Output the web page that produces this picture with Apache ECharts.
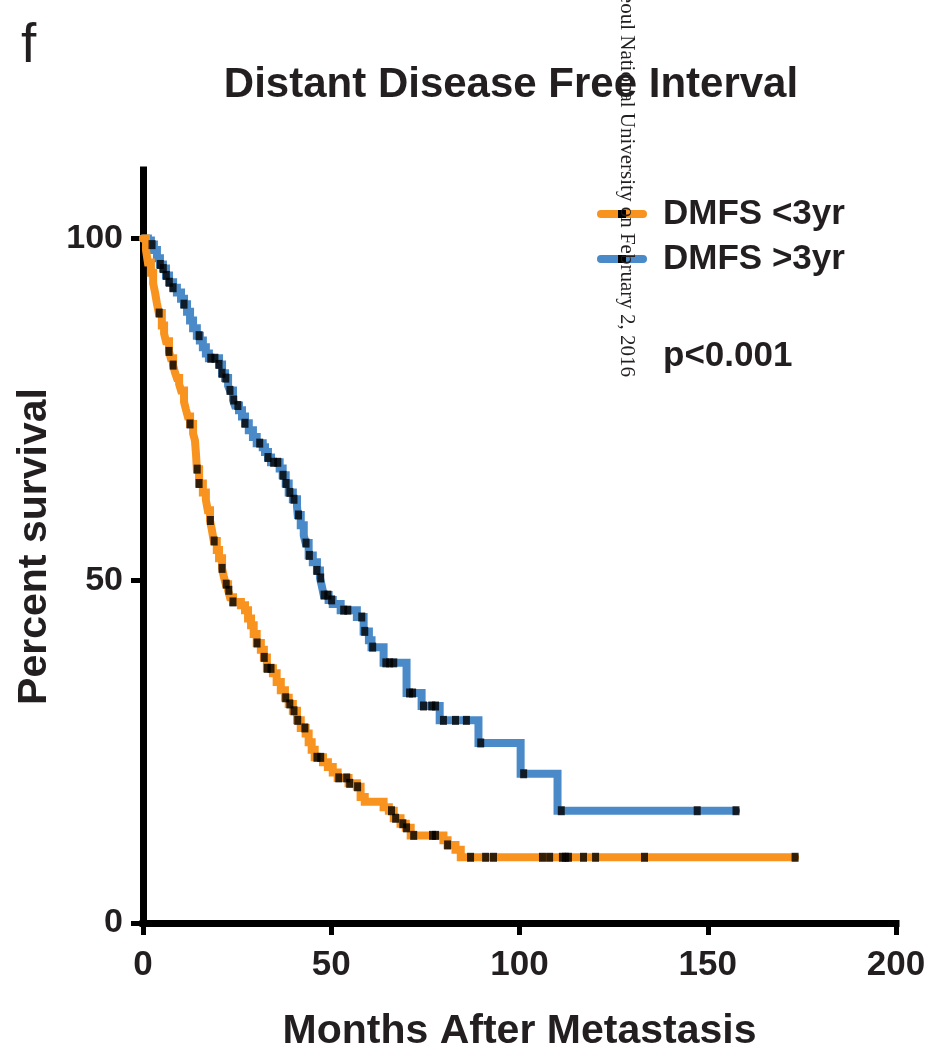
<!DOCTYPE html>
<html><head><meta charset="utf-8">
<script src="https://cdn.jsdelivr.net/npm/echarts@6/dist/echarts.min.js"></script>
<style>html,body{margin:0;padding:0;background:#fff}#c{width:934px;height:1053px}</style>
</head><body><div id="c"></div>
<script>
// ---- data ----
const xTicks = [0, 50, 100, 150, 200];
const yTicks = [0, 50, 100];
const seriesNames = ['DMFS <3yr', 'DMFS >3yr'];
const pValueText = 'p<0.001';

// Kaplan-Meier steps: [month, percent surviving after the drop]
const stepsShort = [[0,100],[0.8,98.3],[1.3,96.5],[2.1,95.0],[2.7,93.4],[3.2,92.1],[3.7,90.5],[4.2,89.1],[5.0,87.3],[5.6,86.1],[6.1,85.0],[6.9,83.5],[7.4,82.5],[8.0,81.5],[8.5,80.4],[9.0,79.6],[9.6,78.7],[10.1,77.8],[10.9,76.1],[11.4,75.0],[11.9,74.0],[12.5,72.9],[13.3,71.5],[13.8,70.5],[14.1,68.3],[14.3,66.3],[14.9,64.2],[15.9,62.9],[16.7,61.8],[17.2,60.3],[17.8,58.8],[18.3,57.4],[18.8,55.8],[19.6,54.5],[20.2,53.3],[21.0,51.8],[21.5,50.5],[22.0,49.5],[22.6,48.6],[23.1,47.6],[23.9,46.9],[26.0,46.4],[27.1,45.7],[27.9,44.5],[28.7,43.5],[29.4,42.2],[30.2,40.9],[31.3,39.9],[32.1,38.8],[32.9,37.2],[34.5,36.5],[35.5,35.2],[36.6,34.0],[37.7,32.9],[38.7,32.0],[39.8,31.0],[40.9,29.6],[41.9,28.5],[43.2,27.7],[44.0,26.4],[44.8,25.3],[45.6,24.2],[47.8,23.5],[49.1,22.8],[50.4,22.0],[51.7,21.2],[54.6,20.4],[56.8,19.9],[57.8,18.4],[58.9,17.7],[63.9,16.9],[65.3,16.4],[66.6,15.3],[68.4,14.5],[69.8,13.9],[71.1,12.8],[79.8,12.1],[80.9,11.4],[83.0,10.7],[84.4,9.6],[173.2,9.6]];
const stepsLong = [[0,100],[1.3,99.7],[2.1,99.1],[2.9,98.3],[3.7,97.1],[4.5,96.2],[5.3,95.6],[6.1,94.6],[6.9,93.6],[8.0,92.8],[9.0,92.1],[10.1,91.2],[10.9,90.4],[11.7,89.3],[12.5,88.0],[13.3,86.9],[14.3,85.8],[15.1,85.1],[15.9,84.1],[16.7,83.2],[17.5,82.5],[20.2,81.6],[21.0,80.3],[21.8,79.6],[22.6,78.5],[23.1,77.8],[23.9,76.4],[24.4,75.6],[25.5,74.9],[26.3,74.0],[27.1,73.0],[28.1,72.0],[29.2,71.0],[30.2,70.1],[31.8,69.5],[32.4,68.8],[33.2,68.0],[34.0,67.3],[36.3,66.4],[37.1,65.4],[37.9,64.2],[38.7,62.9],[39.8,61.9],[40.9,60.9],[41.1,59.6],[41.9,58.1],[42.7,56.6],[43.2,55.5],[44.0,53.7],[45.1,52.7],[46.2,51.5],[47.0,50.4],[47.5,49.2],[48.0,47.9],[49.3,47.2],[50.4,46.6],[52.5,45.7],[56.8,44.7],[58.6,42.6],[60.0,41.3],[60.7,40.3],[63.9,38.0],[70.0,33.6],[74.0,31.7],[78.8,29.6],[89.1,26.3],[100.3,21.8],[110.1,16.4],[157.5,16.4]];

// censored observations (months)
const censorShort = [4.3,6.9,8.0,12.5,14.4,14.9,17.9,18.9,21.0,22.1,22.8,23.9,30.3,32.2,33.0,34.0,37.9,39.0,40.1,41.1,43.0,46.2,47.2,52.0,54.1,54.9,57.0,66.0,67.1,69.0,70.0,71.9,76.9,77.7,80.9,87.0,91.0,93.1,106.1,108.0,111.4,112.2,113.0,117.0,120.2,133.2,173.2];
const censorLong = [2.4,4.6,5.4,6.2,7.0,8.0,10.9,14.9,18.0,19.1,20.2,21.0,22.0,23.1,24.1,25.2,27.1,31.0,33.2,34.7,35.8,37.2,38.0,39.0,40.1,41.3,43.3,44.2,46.2,47.2,48.1,49.1,50.1,53.3,54.4,58.1,58.9,61.0,64.5,65.5,66.6,70.8,71.6,74.5,76.7,77.7,79.8,83.0,85.9,89.7,101.1,111.1,147.2,157.5];

// ---- drawing ----
const FONT = '"Liberation Sans", Arial, Helvetica, sans-serif';
const TXT = '#231F20';
const ORANGE = '#F7931E';
const BLUE = '#4A8AC8';

function survAt(steps, t) {
  let s = steps[0][1];
  for (const p of steps) { if (p[0] <= t) s = p[1]; else break; }
  return s;
}

const chart = echarts.init(document.getElementById('c'), null, {renderer: 'canvas'});
chart.setOption({
  animation: false,
  backgroundColor: '#fff',
  title: {
    text: 'Distant Disease Free Interval', left: 511, top: 64, textAlign: 'center', padding: 0,
    textStyle: {fontFamily: FONT, fontSize: 42, fontWeight: 'bold', color: TXT}
  },
  legend: {
    data: seriesNames, orient: 'vertical', left: 597, top: 196, padding: 0,
    itemWidth: 42, itemHeight: 10, itemGap: 9,
    itemStyle: {color: '#000'},
    lineStyle: {cap: 'round', width: 8},
    textStyle: {fontFamily: FONT, fontSize: 35, fontWeight: 'bold', color: TXT, lineHeight: 36, padding: [0, 0, 0, 15]},
    selectedMode: false
  },
  grid: {left: 143, right: 38, top: 170, bottom: 130, containLabel: false, outerBoundsMode: 'none'},
  xAxis: {
    type: 'value', min: 0, max: 200, interval: 50,
    axisLine: {show: true, lineStyle: {color: '#000', width: 7, cap: 'square'}},
    axisTick: {show: true, length: 12, inside: false, customValues: xTicks, lineStyle: {color: '#000', width: 5}},
    axisLabel: {customValues: xTicks, fontFamily: FONT, fontSize: 35, fontWeight: 'bold', color: TXT, margin: 25},
    splitLine: {show: false},
    name: 'Months After Metastasis', nameLocation: 'middle', nameGap: 88,
    nameTextStyle: {fontFamily: FONT, fontSize: 41, fontWeight: 'bold', color: TXT}
  },
  yAxis: {
    type: 'value', min: 0, max: 110,
    axisLine: {show: true, onZero: false, lineStyle: {color: '#000', width: 7, cap: 'square'}},
    axisTick: {show: true, length: 12, inside: false, customValues: yTicks, lineStyle: {color: '#000', width: 5}},
    axisLabel: {customValues: yTicks, fontFamily: FONT, fontSize: 34, fontWeight: 'bold', color: TXT, margin: 20},
    splitLine: {show: false},
    name: 'Percent survival', nameLocation: 'middle', nameGap: 79, nameRotate: 90,
    nameTextStyle: {fontFamily: FONT, fontSize: 41, fontWeight: 'bold', color: TXT}
  },
  series: [
    {name: seriesNames[1], type: 'line', step: 'end', data: stepsLong, symbol: 'rect', symbolSize: [7, 9], showSymbol: false, silent: true,
     lineStyle: {color: BLUE, width: 8, cap: 'round', join: 'miter'}, itemStyle: {color: BLUE}, z: 2},
    {name: seriesNames[0], type: 'line', step: 'end', data: stepsShort, symbol: 'rect', symbolSize: [7, 9], showSymbol: false, silent: true,
     lineStyle: {color: ORANGE, width: 8, cap: 'round', join: 'miter'}, itemStyle: {color: ORANGE}, z: 3},
    {type: 'scatter', data: censorLong.map(t => [t, survAt(stepsLong, t)]), symbol: 'rect', symbolSize: [7, 9], silent: true,
     itemStyle: {color: '#000'}, z: 5},
    {type: 'scatter', data: censorShort.map(t => [t, survAt(stepsShort, t)]), symbol: 'rect', symbolSize: [7, 9], silent: true,
     itemStyle: {color: '#000'}, z: 5}
  ],
  graphic: [
    {type: 'text', x: 21, y: 47, z: 50,
     style: {text: 'f', font: '55px ' + FONT, fill: TXT, textAlign: 'left', textVerticalAlign: 'middle', align: 'left', verticalAlign: 'middle'}},
    {type: 'text', x: 663, y: 356, z: 50,
     style: {text: pValueText, font: 'bold 35px ' + FONT, fill: TXT, textAlign: 'left', textVerticalAlign: 'middle', align: 'left', verticalAlign: 'middle'}},
    {type: 'text', x: 627, y: 377, rotation: -Math.PI / 2, z: 60,
     style: {text: 'by Seoul National University on February 2, 2016', font: '21px "Liberation Serif", "Times New Roman", serif', fill: TXT,
             textAlign: 'right', textVerticalAlign: 'middle', align: 'right', verticalAlign: 'middle'}}
  ]
});
</script>
</body></html>
